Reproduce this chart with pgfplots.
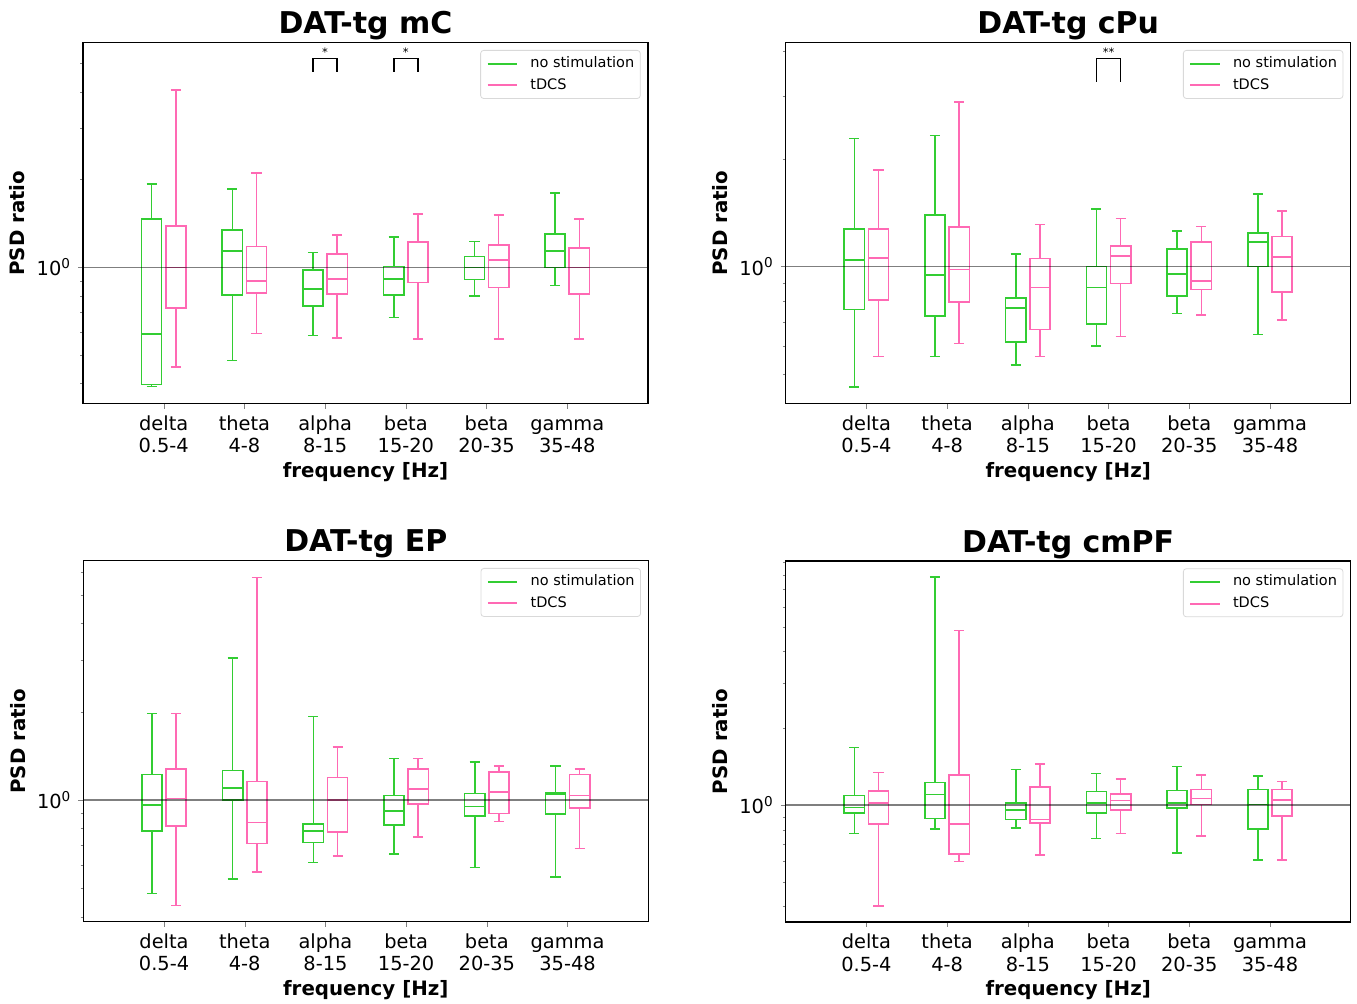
\documentclass[border=0pt]{standalone}
\usepackage{fontspec}
\setmainfont{DejaVu Sans}
\usepackage{pgfplots}
\pgfplotsset{compat=1.18}
\definecolor{gcol}{RGB}{50,205,50}
\definecolor{pcol}{RGB}{255,105,180}

\pgfplotsset{
  every axis/.append style={
    width=282.5pt, height=180.5pt, scale only axis,
    xmin=0, xmax=7,
    xtick={1,2,3,4,5,6},
    xticklabels={\strut delta\\0.5-4, \strut theta\\4-8, \strut alpha\\8-15, \strut beta\\15-20, \strut beta\\20-35, \strut gamma\\35-48},
    xticklabel style={align=center, font=\fontsize{9.7}{11.2}\selectfont, yshift=0.5pt},
    yticklabel style={font=\fontsize{9.7}{11.6}\selectfont},
    tick align=outside, tick pos=left,
    major tick length=2.45pt, minor tick length=1.4pt,
    axis line style={line width=0.55pt},
    title style={font=\fontsize{15}{18}\selectfont\bfseries, at={(axis description cs:0.5,1.0249)}, anchor=base, yshift=-6pt},
    xlabel style={font=\fontsize{9.9}{12}\selectfont\bfseries, at={(axis description cs:0.5,-0.2031)}, anchor=base},
    ylabel style={font=\fontsize{9.9}{12}\selectfont\bfseries, at={(axis description cs:-0.1027,0.5)}, anchor=base},
    legend style={at={(axis description cs:1,1)}, anchor=north east, xshift=-3.65pt, yshift=-3.65pt,
      draw=black!15, rounded corners=1.5pt, fill=white,
      font=\fontsize{7.25}{8.7}\selectfont, inner xsep=3pt, inner ysep=3.2pt,
      row sep=4.05pt, column sep=6.15pt,
      nodes={inner xsep=0pt, inner ysep=0pt, text height=5.3pt, text depth=1.5pt}},
    legend cell align=left,
  },
}
% colour, position, lower whisker, lower quartile, median, upper quartile, upper whisker
\newcommand{\bx}[7]{%
  \pgfmathsetmacro{\xa}{#2-0.125}\pgfmathsetmacro{\xb}{#2+0.125}%
  \pgfmathsetmacro{\xc}{#2-0.0625}\pgfmathsetmacro{\xd}{#2+0.0625}%
  \edef\tmpbox{%
    \noexpand\addplot[#1, line width=0.8pt, line join=miter, mark=none, forget plot] coordinates {(\xa,#4) (\xb,#4) (\xb,#6) (\xa,#6) (\xa,#4) (\xb,#4)};
    \noexpand\addplot[#1, line width=0.8pt, mark=none, forget plot] coordinates {(\xa,#5) (\xb,#5)};
    \noexpand\addplot[#1, line width=0.8pt, mark=none, forget plot] coordinates {(#2,#4) (#2,#3)};
    \noexpand\addplot[#1, line width=0.8pt, mark=none, forget plot] coordinates {(\xc,#3) (\xd,#3)};
    \noexpand\addplot[#1, line width=0.8pt, mark=none, forget plot] coordinates {(#2,#6) (#2,#7)};
    \noexpand\addplot[#1, line width=0.8pt, mark=none, forget plot] coordinates {(\xc,#7) (\xd,#7)};
  }\tmpbox
}
\newcommand{\refline}{\addplot[black, opacity=0.5, line width=0.75pt, mark=none, forget plot] coordinates {(0,1) (7,1)};}

\begin{document}
\begin{tikzpicture}
\path[use as bounding box] (0pt,0pt) rectangle (678.5pt,-502pt);

% ---------------- top left: mC
\begin{axis}[ymode=log, ymin=0.341, ymax=5.9, ytick={1}, yticklabels={10\textsuperscript{0}},
  minor ytick={0.2,0.3,0.4,0.5,0.6,0.7,0.8,0.9,2,3,4,5,6,7,8,9},
  title={DAT-tg mC}, xlabel={frequency [Hz]}, ylabel={PSD ratio},
  legend image code/.code={\draw[#1] (0pt,0pt) -- (14.7pt,0pt);},
  at={(41.5pt,-21.35pt)}, anchor=north west]
\addlegendimage{gcol, line width=1pt}\addlegendentry{no stimulation}
\addlegendimage{pcol, line width=1pt}\addlegendentry{tDCS}
\bx{gcol}{0.85}{0.391}{0.397}{0.591}{1.465}{1.935}
\bx{pcol}{1.15}{0.456}{0.726}{1.0}{1.39}{4.06}
\bx{gcol}{1.85}{0.479}{0.806}{1.141}{1.346}{1.856}
\bx{pcol}{2.15}{0.594}{0.819}{0.898}{1.18}{2.105}
\bx{gcol}{2.85}{0.585}{0.738}{0.843}{0.982}{1.126}
\bx{pcol}{3.15}{0.574}{0.811}{0.913}{1.111}{1.291}
\bx{gcol}{3.85}{0.673}{0.804}{0.913}{1.008}{1.27}
\bx{pcol}{4.15}{0.568}{0.888}{1.22}{1.227}{1.527}
\bx{gcol}{4.85}{0.8}{0.908}{1.0}{1.09}{1.227}
\bx{pcol}{5.15}{0.568}{0.854}{1.06}{1.196}{1.512}
\bx{gcol}{5.85}{0.868}{1.0}{1.141}{1.301}{1.798}
\bx{pcol}{6.15}{0.568}{0.811}{1.0}{1.168}{1.465}
\refline
\addplot[black, line width=0.8pt, mark=none, forget plot] coordinates {(2.85,4.69) (2.85,5.21) (3.15,5.21) (3.15,4.69)};
\addplot[black, line width=0.8pt, mark=none, forget plot] coordinates {(3.85,4.69) (3.85,5.21) (4.15,5.21) (4.15,4.69)};
\node[anchor=base, inner sep=0pt, yshift=1pt, font=\fontsize{5.8}{6}\selectfont] at (axis cs:3,5.21) {*};
\node[anchor=base, inner sep=0pt, yshift=1pt, font=\fontsize{5.8}{6}\selectfont] at (axis cs:4,5.21) {*};
\end{axis}

% ---------------- top right: cPu
\begin{axis}[ymode=log, ymin=0.413, ymax=4.23, ytick={1}, yticklabels={10\textsuperscript{0}},
  minor ytick={0.2,0.3,0.4,0.5,0.6,0.7,0.8,0.9,2,3,4,5,6,7,8,9},
  title={DAT-tg cPu}, xlabel={frequency [Hz]}, ylabel={PSD ratio},
  legend image code/.code={\draw[#1] (0pt,0pt) -- (14.7pt,0pt);},
  at={(392.85pt,-21.35pt)}, anchor=north west]
\addlegendimage{gcol, line width=1pt}\addlegendentry{no stimulation}
\addlegendimage{pcol, line width=1pt}\addlegendentry{tDCS}
\bx{gcol}{0.85}{0.46}{0.758}{1.042}{1.275}{2.279}
\bx{pcol}{1.15}{0.56}{0.807}{1.056}{1.275}{1.86}
\bx{gcol}{1.85}{0.56}{0.728}{0.946}{1.392}{2.324}
\bx{pcol}{2.15}{0.608}{0.795}{0.981}{1.291}{2.887}
\bx{gcol}{2.85}{0.53}{0.615}{0.765}{0.816}{1.083}
\bx{pcol}{3.15}{0.56}{0.667}{0.874}{1.053}{1.31}
\bx{gcol}{3.85}{0.6}{0.69}{0.874}{1.0}{1.45}
\bx{pcol}{4.15}{0.637}{0.896}{1.069}{1.143}{1.362}
\bx{gcol}{4.85}{0.738}{0.828}{0.954}{1.121}{1.258}
\bx{pcol}{5.15}{0.733}{0.862}{0.91}{1.17}{1.294}
\bx{gcol}{5.85}{0.645}{1.0}{1.17}{1.242}{1.594}
\bx{pcol}{6.15}{0.708}{0.85}{1.062}{1.213}{1.429}
\refline
\addplot[black, line width=0.8pt, mark=none, forget plot] coordinates {(3.85,3.29) (3.85,3.825) (4.15,3.825) (4.15,3.29)};
\node[anchor=base, inner sep=0pt, yshift=1pt, font=\fontsize{5.8}{6}\selectfont] at (axis cs:4,3.825) {**};
\end{axis}

% ---------------- bottom left: EP
\begin{axis}[ymode=log, ymin=0.385, ymax=6.56, ytick={1}, yticklabels={10\textsuperscript{0}},
  minor ytick={0.2,0.3,0.4,0.5,0.6,0.7,0.8,0.9,2,3,4,5,6,7,8,9},
  title={DAT-tg EP}, xlabel={frequency [Hz]}, ylabel={PSD ratio},
  legend image code/.code={\draw[#1] (0pt,0pt) -- (14.7pt,0pt);},
  at={(41.65pt,-280.35pt)}, anchor=north west]
\addlegendimage{gcol, line width=1pt}\addlegendentry{no stimulation}
\addlegendimage{pcol, line width=1pt}\addlegendentry{tDCS}
\bx{gcol}{0.85}{0.48}{0.784}{0.964}{1.224}{1.976}
\bx{pcol}{1.15}{0.437}{0.817}{1.013}{1.276}{1.976}
\bx{gcol}{1.85}{0.538}{1.0}{1.102}{1.263}{3.05}
\bx{pcol}{2.15}{0.569}{0.711}{0.839}{1.158}{5.75}
\bx{gcol}{2.85}{0.613}{0.717}{0.784}{0.83}{1.93}
\bx{pcol}{3.15}{0.645}{0.778}{1.0}{1.195}{1.517}
\bx{gcol}{3.85}{0.656}{0.824}{0.92}{1.037}{1.388}
\bx{pcol}{4.15}{0.748}{0.972}{1.093}{1.276}{1.388}
\bx{gcol}{4.85}{0.589}{0.882}{0.952}{1.054}{1.351}
\bx{pcol}{5.15}{0.846}{0.901}{1.065}{1.246}{1.31}
\bx{gcol}{5.85}{0.546}{0.896}{1.045}{1.059}{1.31}
\bx{pcol}{6.15}{0.684}{0.941}{1.037}{1.224}{1.276}
\refline
\end{axis}

% ---------------- bottom right: cmPF
\begin{axis}[ymode=log, ymin=0.348, ymax=9.07, ytick={1}, yticklabels={10\textsuperscript{0}},
  minor ytick={0.2,0.3,0.4,0.5,0.6,0.7,0.8,0.9,2,3,4,5,6,7,8,9},
  title={DAT-tg cmPF}, xlabel={frequency [Hz]}, ylabel={PSD ratio},
  legend image code/.code={\draw[#1] (0pt,0pt) -- (14.7pt,0pt);},
  at={(392.85pt,-280.5pt)}, anchor=north west]
\addlegendimage{gcol, line width=1pt}\addlegendentry{no stimulation}
\addlegendimage{pcol, line width=1pt}\addlegendentry{tDCS}
\bx{gcol}{0.85}{0.774}{0.933}{0.979}{1.089}{1.685}
\bx{pcol}{1.15}{0.402}{0.842}{1.022}{1.135}{1.345}
\bx{gcol}{1.85}{0.805}{0.886}{1.099}{1.225}{7.85}
\bx{pcol}{2.15}{0.601}{0.642}{0.845}{1.316}{4.845}
\bx{gcol}{2.85}{0.815}{0.879}{0.956}{1.022}{1.381}
\bx{pcol}{3.15}{0.636}{0.853}{0.879}{1.177}{1.449}
\bx{gcol}{3.85}{0.74}{0.933}{1.022}{1.132}{1.332}
\bx{pcol}{4.15}{0.774}{0.956}{1.043}{1.108}{1.265}
\bx{gcol}{4.85}{0.648}{0.973}{1.022}{1.142}{1.419}
\bx{pcol}{5.15}{0.756}{1.006}{1.06}{1.153}{1.316}
\bx{gcol}{5.85}{0.61}{0.805}{1.006}{1.153}{1.3}
\bx{pcol}{6.15}{0.61}{0.908}{1.05}{1.153}{1.236}
\refline
\end{axis}
\end{tikzpicture}
\end{document}
